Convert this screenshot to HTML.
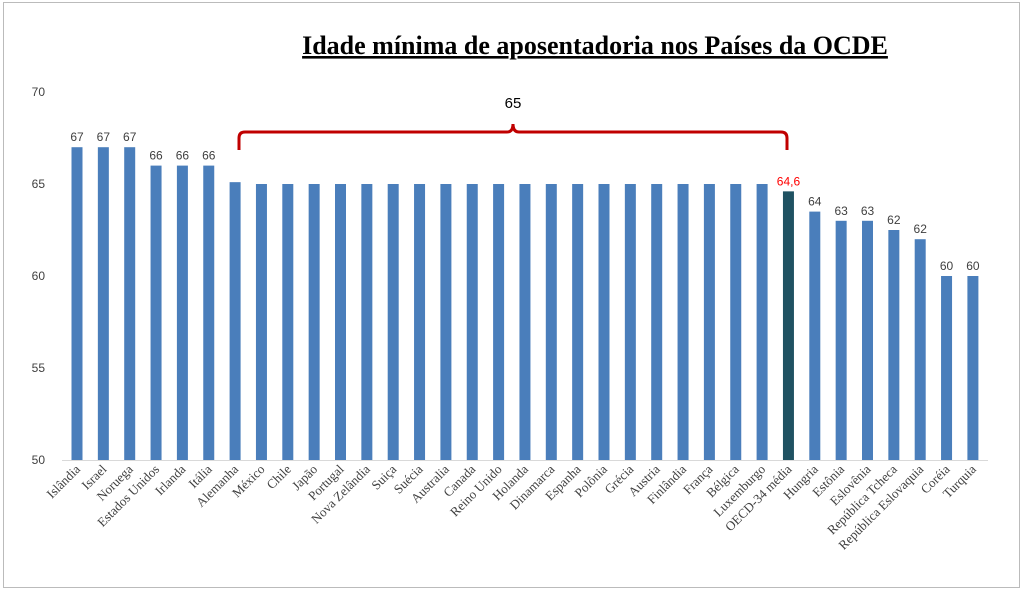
<!DOCTYPE html>
<html><head><meta charset="utf-8"><style>
body{margin:0;background:#fff;width:1024px;height:592px;overflow:hidden}
svg{display:block}
</style></head><body>
<svg width="1024" height="592" xmlns="http://www.w3.org/2000/svg">
<rect x="3.5" y="2.5" width="1016" height="585" fill="#fff" stroke="#bbb"/>
<text x="595" y="54" text-anchor="middle" font-family="Liberation Serif, serif" font-weight="bold" font-size="26" text-decoration="underline">Idade mínima de aposentadoria nos Países da OCDE</text>
<g id="yaxis"></g>
<g id="bars"></g>
<line x1="62" y1="460.5" x2="988" y2="460.5" stroke="#d9d9d9"/>
<path d="M239 150 V138 Q239 132 245 132 H507 Q513 132 513 124 Q513 132 519 132 H781 Q787 132 787 138 V150" fill="none" stroke="#c00000" stroke-width="3"/>
<text x="513" y="108" text-anchor="middle" font-family="Liberation Sans, sans-serif" font-size="15">65</text>
</svg>
<script>
const categories=["Islândia","Israel","Noruega","Estados Unidos","Irlanda","Itália","Alemanha","México","Chile","Japão","Portugal","Nova Zelândia","Suiça","Suécia","Australia","Canada","Reino Unido","Holanda","Dinamarca","Espanha","Polônia","Grécia","Austria","Finlândia","França","Bélgica","Luxemburgo","OECD-34 média","Hungria","Estônia","Eslovênia","República Tcheca","República Eslovaquia","Coréia","Turquia"];
const values=[67,67,67,66,66,66,65.1,65,65,65,65,65,65,65,65,65,65,65,65,65,65,65,65,65,65,65,65,64.6,63.5,63,63,62.5,62,60,60];
const valueLabels=["67","67","67","66","66","66","","","","","","","","","","","","","","","","","","","","","","64,6","64","63","63","62","62","60","60"];
const yTicks=[50,55,60,65,70];
const NS="http://www.w3.org/2000/svg";
const y=v=>460-(v-50)*18.4;
const x=i=>77+i*26.35;
const ya=document.getElementById('yaxis'),bg=document.getElementById('bars');
function mk(t,a,p){const e=document.createElementNS(NS,t);for(const k in a)e.setAttribute(k,a[k]);p.appendChild(e);return e;}
yTicks.forEach(t=>{const e=mk('text',{x:45,y:y(t)+4,'text-anchor':'end','font-family':'Liberation Sans, sans-serif','font-size':12,fill:'#404040'},ya);


e.textContent=t;});
categories.forEach((c,i)=>{
const avg=c.startsWith('OECD');
const r=mk('rect',{x:x(i)-5.5,y:y(values[i]),width:11,height:460-y(values[i]),fill:avg?'#1f5262':'#4a7ebb'},bg);


if(valueLabels[i]){const t=mk('text',{x:x(i),y:y(values[i])-6,'text-anchor':'middle','font-family':'Liberation Sans, sans-serif','font-size':12,fill:avg?'#ff0000':'#404040'},bg);


t.textContent=valueLabels[i];}
const l=mk('text',{x:x(i)+4,y:470,'text-anchor':'end','font-family':'Liberation Serif, serif','font-size':13,fill:'#404040',transform:`rotate(-45 ${x(i)+4} 470)`},bg);


l.textContent=c;
});
</script>
</body></html>
